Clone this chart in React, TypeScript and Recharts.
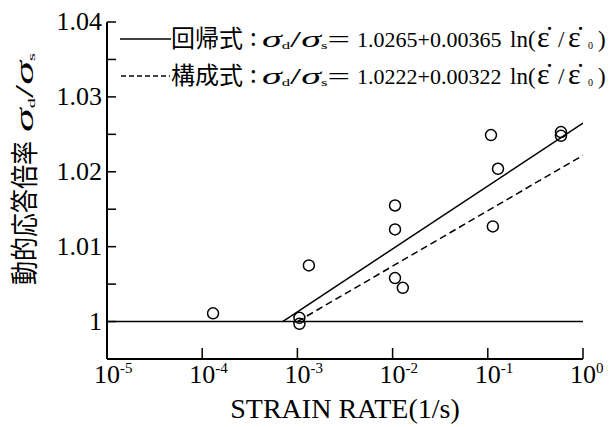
import React from 'react';
import { ComposedChart, XAxis, YAxis, Scatter, ReferenceLine } from 'recharts';

const W = 616;
const H = 427;

// measured data points (strain rate [1/s], dynamic response ratio)
const strainRate = [1.3e-4, 1.05e-3, 1.05e-3, 1.32e-3, 1.06e-2, 1.06e-2, 1.06e-2, 1.28e-2, 0.108, 0.113, 0.128, 0.587, 0.587];
const ratio = [1.0011, 1.0005, 0.9997, 1.0075, 1.0155, 1.0123, 1.0058, 1.0045, 1.0249, 1.0127, 1.0204, 1.0253, 1.0248];

// regression line (solid) and constitutive line (dashed) end points
const regressionX = [7.0e-4, 1];
const regressionY = [1.0, 1.0265];
const constitutiveX = [1.0e-3, 1];
const constitutiveY = [1.0, 1.0222];

const xTicks = [1e-5, 1e-4, 1e-3, 1e-2, 1e-1, 1];
const xTickExponents = ['-5', '-4', '-3', '-2', '-1', '0'];
const yTicks = [1, 1.005, 1.01, 1.015, 1.02, 1.025, 1.03, 1.035, 1.04];
const yTickLabels = ['1', '', '1.01', '', '1.02', '', '1.03', '', '1.04'];

const points = strainRate.map((x, i) => ({ x, y: ratio[i] }));
const regression = regressionX.map((x, i) => ({ x, y: regressionY[i] }));
const constitutive = constitutiveX.map((x, i) => ({ x, y: constitutiveY[i] }));

const SERIF = 'Liberation Serif, DejaVu Serif, Times New Roman, serif';
const CJK = 'Noto Sans CJK JP, sans-serif';

const serifStyle = { fontFamily: SERIF };
const cjkStyle = { fontFamily: CJK };

const XTick = (props: any) => {
  const { x, y, payload } = props;
  const idx = xTicks.findIndex((t) => Math.abs(t - payload.value) / t < 1e-6);
  return (
    <g>
      <line x1={x} x2={x} y1={y} y2={y - 11} stroke="#000" strokeWidth={1.5} />
      <text x={x - 13} y={y + 24} style={serifStyle} fontSize={26} fill="#000">
        10
        <tspan dy={-10} fontSize={15}>{xTickExponents[idx]}</tspan>
      </text>
    </g>
  );
};

const YTick = (props: any) => {
  const { x, y, payload } = props;
  const idx = yTicks.findIndex((t) => Math.abs(t - payload.value) < 1e-6);
  const label = yTickLabels[idx];
  return (
    <g>
      <line x1={x} x2={x + 9} y1={y} y2={y} stroke="#000" strokeWidth={1.5} />
      {label ? (
        <text x={x - 5} y={y + 8} textAnchor="end" style={serifStyle} fontSize={26} fill="#000">
          {label}
        </text>
      ) : null}
    </g>
  );
};

const Circle = (props: any) => (
  <circle cx={props.cx} cy={props.cy} r={5.5} fill="none" stroke="#000" strokeWidth={1.5} />
);
const NoShape = () => <g />;

const LegendRow = ({ y, name, a, b }: { y: number; name: string; a: string; b: string }) => (
  <g fill="#000">
    <text x={171} y={y} style={cjkStyle} fontSize={24} textLength={72} lengthAdjust="spacingAndGlyphs">
      {name}
    </text>
    <text x={250} y={y - 1} style={cjkStyle} fontSize={24}>:</text>
    <text x={262} y={y} style={serifStyle} fontSize={24} textLength={88} lengthAdjust="spacingAndGlyphs">
      <tspan fontStyle="italic">σ</tspan>
      <tspan fontSize={10} dy={2}>d</tspan>
      <tspan dy={-2}>/</tspan>
      <tspan fontStyle="italic">σ</tspan>
      <tspan fontSize={10} dy={2}>s</tspan>
      <tspan dy={-2}>=</tspan>
    </text>
    <text x={357} y={y} style={serifStyle} fontSize={22}>
      {a}+{b}
    </text>
    <text y={y} style={serifStyle} fontSize={23}>
      <tspan x={510}>ln(</tspan>
      <tspan x={537} fontSize={30}>{'ε\u0307'}</tspan>
      <tspan x={558} fontSize={23}>/</tspan>
      <tspan x={568} fontSize={30}>{'ε\u0307'}</tspan>
      <tspan x={588} fontSize={10} dy={2}>0</tspan>
      <tspan x={598} dy={-2}>)</tspan>
    </text>
  </g>
);

export default function App() {
  return (
    <div style={{ position: 'absolute', left: 0, top: 0, width: W, height: H, background: '#fff' }}>
      <ComposedChart width={W} height={H} margin={{ top: 22, right: 33, left: 0, bottom: 0 }}>
        <XAxis
          type="number"
          dataKey="x"
          scale="log"
          domain={[1e-5, 1]}
          ticks={xTicks}
          interval={0}
          allowDataOverflow
          height={68}
          tickSize={0}
          tickMargin={0}
          tickLine={false}
          tick={<XTick />}
          axisLine={{ stroke: '#000', strokeWidth: 2 }}
          label={{
            content: () => (
              <text x={345} y={418} textAnchor="middle" style={serifStyle} fontSize={28} fill="#000">
                STRAIN RATE(1/s)
              </text>
            ),
          }}
        />
        <YAxis
          type="number"
          dataKey="y"
          domain={[0.995, 1.04]}
          ticks={yTicks}
          interval={0}
          allowDataOverflow
          width={107}
          tickSize={0}
          tickMargin={0}
          tickLine={false}
          tick={<YTick />}
          axisLine={{ stroke: '#000', strokeWidth: 2 }}
          label={{
            content: () => (
              <g fill="#000">
                <text
                  x={35}
                  y={285}
                  transform="rotate(-90 35 285)"
                  style={cjkStyle}
                  fontSize={28}
                  textLength={144}
                  lengthAdjust="spacingAndGlyphs"
                >
                  動的応答倍率
                </text>
                <text
                  x={33}
                  y={132}
                  transform="rotate(-90 33 132)"
                  style={serifStyle}
                  fontSize={26}
                  textLength={79}
                  lengthAdjust="spacingAndGlyphs"
                >
                  <tspan fontStyle="italic">σ</tspan>
                  <tspan fontSize={11} dy={2}>d</tspan>
                  <tspan dy={-2}>/</tspan>
                  <tspan fontStyle="italic">σ</tspan>
                  <tspan fontSize={11} dy={2}>s</tspan>
                </text>
              </g>
            ),
          }}
        />
        <ReferenceLine y={1} stroke="#000" strokeWidth={1.5} ifOverflow="extendDomain" />
        <Scatter
          data={regression}
          line={{ stroke: '#000', strokeWidth: 1.5 }}
          shape={NoShape}
          isAnimationActive={false}
        />
        <Scatter
          data={constitutive}
          line={{ stroke: '#000', strokeWidth: 1.5, strokeDasharray: '7 4' }}
          shape={NoShape}
          isAnimationActive={false}
        />
        <Scatter data={points} shape={Circle} isAnimationActive={false} />
      </ComposedChart>
      <svg
        width={W}
        height={H}
        style={{ position: 'absolute', left: 0, top: 0, pointerEvents: 'none' }}
      >
        <line x1={120} x2={171} y1={39} y2={39} stroke="#000" strokeWidth={1.5} />
        <line x1={121} x2={170} y1={76} y2={76} stroke="#000" strokeWidth={1.5} strokeDasharray="5 3" />
        <LegendRow y={47} name="回帰式" a="1.0265" b="0.00365" />
        <LegendRow y={84} name="構成式" a="1.0222" b="0.00322" />
      </svg>
    </div>
  );
}
